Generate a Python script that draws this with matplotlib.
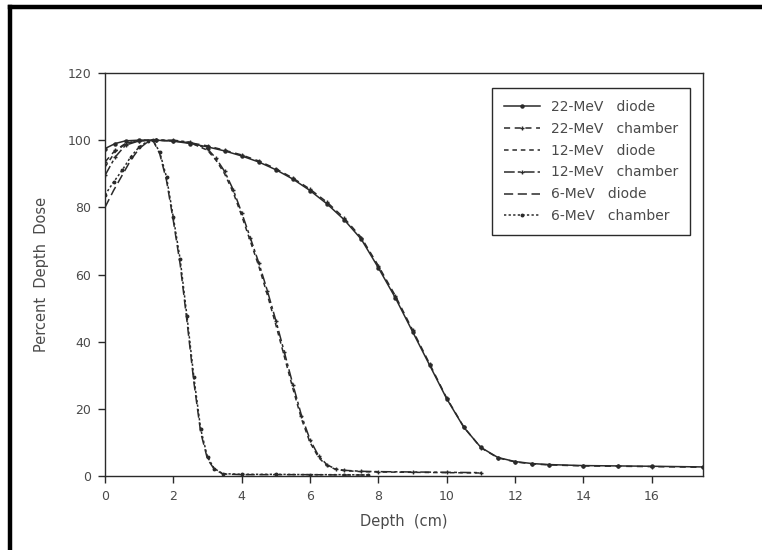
import numpy as np
import matplotlib
matplotlib.use('Agg')
import matplotlib.pyplot as plt
from matplotlib.lines import Line2D

# depth (cm) and percent depth dose
depth_22 = [0, 0.3, 0.6, 1.0, 1.5, 2.0, 2.5, 3.0, 3.5, 4.0, 4.5, 5.0, 5.5, 6.0, 6.5, 7.0, 7.5,
            8.0, 8.5, 9.0, 9.5, 10.0, 10.5, 11.0, 11.5, 12.0, 12.5, 13.0, 14.0, 15.0, 16.0, 17.5]
dose_22_diode = [97.5, 99.0, 99.8, 100, 100, 99.7, 99.0, 98.0, 96.8, 95.3, 93.5, 91.2, 88.4, 85.0, 81.0, 76.3, 70.5,
                 62.0, 53.0, 43.0, 33.0, 23.0, 14.5, 8.5, 5.5, 4.3, 3.7, 3.4, 3.1, 3.0, 2.9, 2.7]
dose_22_chamber = [93.5, 97.0, 99.0, 99.8, 100, 99.8, 99.2, 98.3, 97.0, 95.6, 93.8, 91.5, 88.7, 85.4, 81.5, 76.8, 71.0,
                   62.6, 53.6, 43.5, 33.4, 23.2, 14.6, 8.4, 5.4, 4.2, 3.6, 3.3, 3.0, 2.9, 2.8, 2.6]

depth_12 = [0, 0.3, 0.6, 1.0, 1.5, 2.0, 2.5, 3.0, 3.25, 3.5, 3.75, 4.0, 4.25, 4.5, 4.75, 5.0, 5.25, 5.5,
            5.75, 6.0, 6.25, 6.5, 6.75, 7.0, 7.5, 8.0, 9.0, 10.0, 11.0]
dose_12_diode = [92.0, 96.5, 99.0, 100, 100, 99.8, 99.2, 97.0, 94.0, 90.0, 84.5, 77.5, 70.0, 62.5, 54.0, 45.0, 35.5, 26.0,
                 17.0, 10.0, 5.5, 3.0, 2.0, 1.6, 1.3, 1.2, 1.1, 1.0, 0.9]
dose_12_chamber = [89.5, 95.0, 98.5, 99.8, 100, 100, 99.4, 97.4, 94.6, 90.7, 85.3, 78.4, 71.0, 63.5, 55.2, 46.3, 36.8, 27.2,
                   18.0, 10.8, 6.0, 3.3, 2.1, 1.7, 1.4, 1.3, 1.2, 1.1, 1.0]

depth_6 = [0, 0.25, 0.5, 0.75, 1.0, 1.25, 1.4, 1.6, 1.8, 2.0, 2.2, 2.4, 2.6, 2.8, 3.0, 3.2, 3.45,
           4.0, 5.0, 6.0, 7.0, 7.7]
dose_6_diode = [80.0, 85.0, 89.5, 94.0, 97.5, 99.5, 100, 96.0, 88.0, 76.0, 63.0, 46.0, 28.0, 13.0, 5.0, 2.0, 0.6,
                0.4, 0.4, 0.4, 0.3, 0.3]
dose_6_chamber = [83.7, 87.5, 91.0, 95.0, 98.0, 99.7, 100, 96.5, 89.0, 77.0, 64.5, 47.5, 29.5, 14.0, 5.6, 2.2, 0.7,
                  0.5, 0.5, 0.4, 0.4, 0.3]

labels = ['22-MeV   diode', '22-MeV   chamber', '12-MeV   diode', '12-MeV   chamber', '6-MeV   diode', '6-MeV   chamber']
xticks = [0, 2, 4, 6, 8, 10, 12, 14, 16]
yticks = [0, 20, 40, 60, 80, 100, 120]

INK = '#2a2a2a'
TXT = '#4a4a4a'

plt.rcParams['font.family'] = ['DejaVu Sans']

fig = plt.figure(figsize=(7.62, 5.5), dpi=100)
ax = fig.add_axes([105 / 762, 1 - 476 / 550, 598 / 762, 403 / 550])

series = [
    (depth_22, dose_22_diode, dict(ls='-', marker='o', ms=2.2)),
    (depth_22, dose_22_chamber, dict(ls=(0, (4, 3)), marker='+', ms=3.5)),
    (depth_12, dose_12_diode, dict(ls=(0, (3, 2.5)), marker=None)),
    (depth_12, dose_12_chamber, dict(ls=(0, (7, 2, 2, 2)), marker='+', ms=3.5)),
    (depth_6, dose_6_diode, dict(ls=(0, (6, 3)), marker=None)),
    (depth_6, dose_6_chamber, dict(ls=(0, (1.5, 1.5)), marker='o', ms=1.8)),
]
for (x, y, st), lab in zip(series, labels):
    ax.plot(x, y, color=INK, lw=1.1, label=lab, **st)

ax.set_xlim(0, 17.5)
ax.set_ylim(0, 120)
ax.set_xticks(xticks)
ax.set_yticks(yticks)
ax.tick_params(direction='out', length=5, width=1, colors=INK, labelcolor=TXT, labelsize=9, pad=5)
for s in ax.spines.values():
    s.set_color(INK)
    s.set_linewidth(1.0)

ax.set_xlabel('Depth  (cm)', fontsize=10.5, color=TXT, labelpad=8)
ax.set_ylabel('Percent  Depth  Dose', fontsize=10.5, color=TXT, labelpad=13)

leg = ax.legend(loc='upper right', bbox_to_anchor=(0.978, 0.963), fontsize=10, handlelength=2.6,
                labelspacing=0.57, fancybox=False, edgecolor=INK, framealpha=1, borderpad=0.85,
                handletextpad=0.75, borderaxespad=0)
leg.get_frame().set_linewidth(1.0)
for t in leg.get_texts():
    t.set_color(TXT)

# black frame on top and left edges of the scan
fig.add_artist(Line2D([10 / 762, 10 / 762], [0, 1 - 6.5 / 550], transform=fig.transFigure,
                      color='black', lw=3.2, solid_capstyle='projecting'))
fig.add_artist(Line2D([10 / 762, 1], [1 - 6.5 / 550, 1 - 6.5 / 550], transform=fig.transFigure,
                      color='black', lw=3.2, solid_capstyle='projecting'))

fig.savefig('out.png', dpi=100)
